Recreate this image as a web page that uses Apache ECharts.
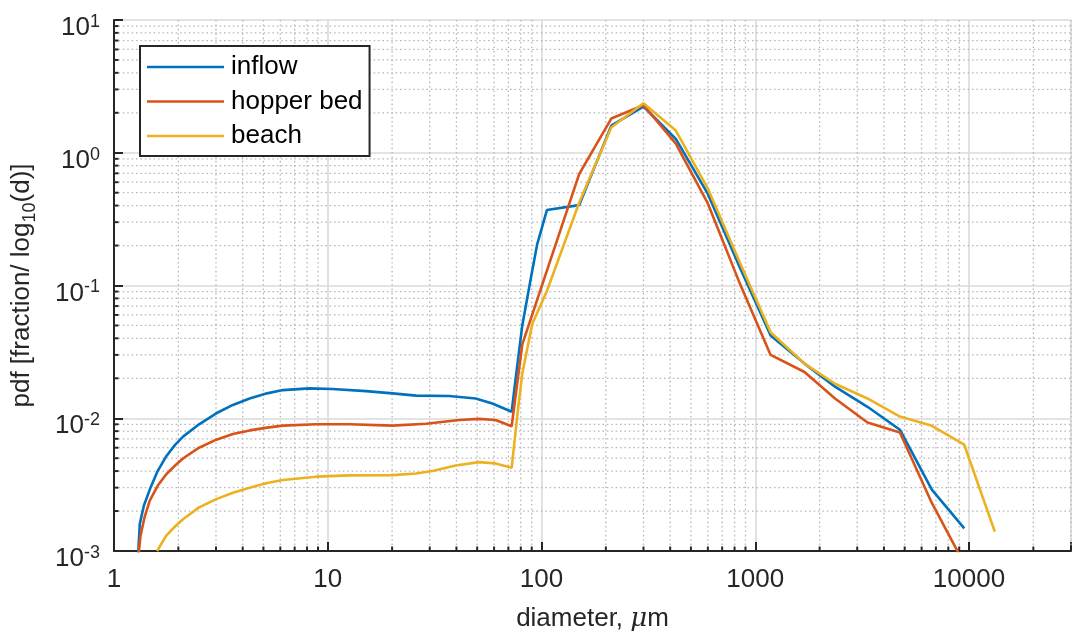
<!DOCTYPE html>
<html><head><meta charset="utf-8">
<script src="https://cdn.jsdelivr.net/npm/echarts@6/dist/echarts.min.js"></script>
<style>html,body{margin:0;padding:0;background:#fff}#c{width:1074px;height:637px}</style>
</head><body><div id="c"></div>
<script>
// ---- data ----
const seriesNames = ['inflow', 'hopper bed', 'beach'];

const inflowX = [1.295, 1.32, 1.38, 1.47, 1.6, 1.76, 1.93, 2.11, 2.5, 3.01, 3.6, 4.31, 5.2, 6.17, 8.2, 10.5, 15.1, 20.1, 25.9, 37, 49.2, 58.9, 72.5, 75.7, 81.3, 89, 95.5, 106, 150, 212, 300, 425, 600, 850, 1180, 1700, 2360, 3350, 4750, 6700, 9500];
const inflowY = [0.0009, 0.0016, 0.0022, 0.0029, 0.0040, 0.0052, 0.0063, 0.0073, 0.0090, 0.0109, 0.0126, 0.0141, 0.0154, 0.0163, 0.0168, 0.0166, 0.0160, 0.0154, 0.0148, 0.0147, 0.0141, 0.0129, 0.0112, 0.0200, 0.0500, 0.112, 0.205, 0.37, 0.403, 1.60, 2.23, 1.27, 0.49, 0.135, 0.042, 0.0258, 0.0173, 0.0122, 0.0082, 0.0029, 0.00148];

const hopperX = [1.30, 1.33, 1.39, 1.47, 1.6, 1.76, 1.93, 2.11, 2.5, 3.01, 3.6, 4.31, 5.2, 6.17, 8.83, 12.6, 20.1, 28.8, 41.2, 51, 61, 72.5, 81.3, 150, 212, 300, 425, 600, 850, 1180, 1700, 2360, 3350, 4750, 6700, 9500];
const hopperY = [0.0009, 0.0013, 0.0018, 0.0024, 0.0031, 0.0038, 0.0044, 0.0050, 0.0060, 0.0069, 0.0076, 0.0081, 0.0085, 0.0088, 0.0090, 0.0090, 0.0088, 0.0091, 0.0097, 0.0099, 0.0097, 0.0087, 0.036, 0.69, 1.81, 2.28, 1.17, 0.415, 0.102, 0.030, 0.0223, 0.0141, 0.0093, 0.0078, 0.0023, 0.0008];

const beachX = [1.59, 1.76, 1.93, 2.11, 2.5, 3.01, 3.6, 4.31, 5.2, 6.17, 8.83, 12.6, 20.1, 25.9, 30.9, 39.7, 51, 61, 72.5, 77.6, 81.3, 90.5, 106, 150, 212, 300, 425, 600, 850, 1180, 1700, 2360, 3350, 4750, 6700, 9500, 13200];
const beachY = [0.001, 0.00131, 0.00153, 0.00174, 0.00213, 0.00246, 0.00275, 0.0030, 0.00325, 0.00343, 0.00363, 0.00371, 0.00373, 0.00384, 0.0040, 0.0044, 0.00467, 0.00457, 0.00423, 0.0116, 0.0217, 0.0513, 0.091, 0.42, 1.55, 2.36, 1.47, 0.537, 0.147, 0.0445, 0.0258, 0.0182, 0.0141, 0.0103, 0.00877, 0.00632, 0.0014];

// axis ranges and tick labels
const xMin = 1, xMax = 30000;
const yMin = 0.001, yMax = 10;
const xMajorLabels = ['1', '10', '100', '1000', '10000'];
const minorMult = [2, 3, 4, 5, 6, 7, 8, 9];
const xDecades = [1, 10, 100, 1000, 10000];
const yDecades = [0.001, 0.01, 0.1, 1];

// ---- build ----
const xMinor = [];
xDecades.forEach(d => minorMult.forEach(m => { const v = +(d * m).toPrecision(6); if (v <= xMax) xMinor.push(v); }));
const yMinor = [];
yDecades.forEach(d => minorMult.forEach(m => { const v = +(d * m).toPrecision(6); if (v <= yMax) yMinor.push(v); }));

const zip = (xs, ys) => xs.map((x, i) => [x, ys[i]]);
const colors = ['#0072BD', '#D95319', '#EDB120'];
const FONT = '"Liberation Sans", Arial, Helvetica, sans-serif';
const AX = '#262626';

const chart = echarts.init(document.getElementById('c'), null, {renderer: 'canvas'});

function renderMinorX(params, api) {
  const v = api.value(0);
  const cs = params.coordSys;
  const x = api.coord([v, yMin])[0];
  const yb = cs.y + cs.height;
  return {type: 'group', children: [
    {type: 'line', shape: {x1: x, y1: cs.y, x2: x, y2: yb}, style: {stroke: '#b8b8b8', lineWidth: 1.3, lineDash: [1.6, 2.8]}},
    {type: 'line', shape: {x1: x, y1: yb, x2: x, y2: yb - 4.5}, style: {stroke: AX, lineWidth: 2}}
  ]};
}
function renderMinorY(params, api) {
  const v = api.value(1);
  const cs = params.coordSys;
  const y = api.coord([xMin, v])[1];
  return {type: 'group', children: [
    {type: 'line', shape: {x1: cs.x, y1: y, x2: cs.x + cs.width, y2: y}, style: {stroke: '#b8b8b8', lineWidth: 1.3, lineDash: [1.6, 2.8]}},
    {type: 'line', shape: {x1: cs.x, y1: y, x2: cs.x + 4.5, y2: y}, style: {stroke: AX, lineWidth: 2}}
  ]};
}

const lineSeries = [[inflowX, inflowY], [hopperX, hopperY], [beachX, beachY]].map((p, i) => ({
  name: seriesNames[i],
  type: 'line',
  data: zip(p[0], p[1]),
  symbol: 'none',
  showSymbol: false,
  smooth: false,
  z: 5,
  lineStyle: {color: colors[i], width: 2.6},
  itemStyle: {color: colors[i]}
}));

const option = {
  animation: false,
  backgroundColor: '#ffffff',
  grid: {left: 114, right: 0, top: 20, bottom: 81, containLabel: false},
  legend: {
    data: seriesNames.map((n, i) => ({name: n, icon: 'rect', itemStyle: {color: colors[i]}})),
    orient: 'vertical',
    left: 140, top: 46,
    padding: [8, 7, 7, 7],
    itemGap: 8.5,
    itemWidth: 77,
    itemHeight: 2.6,
    backgroundColor: '#ffffff',
    borderColor: AX,
    borderWidth: 2,
    borderRadius: 0,
    textStyle: {fontSize: 26, lineHeight: 26, color: '#000', fontFamily: FONT, padding: [0, 0, 0, 2]},
    z: 10
  },
  xAxis: {
    type: 'log', logBase: 10, min: xMin, max: xMax,
    name: '{a|diameter, }{mu|\u03bc}{a|m}',
    nameLocation: 'middle', nameGap: 55,
    nameTextStyle: {
      color: AX,
      rich: {
        a: {fontSize: 26, fontFamily: FONT, color: AX},
        mu: {fontSize: 26, fontFamily: '"DejaVu Serif", serif', fontStyle: 'italic', color: AX}
      }
    },
    axisLine: {show: true, onZero: false, lineStyle: {color: AX, width: 2}},
    axisTick: {show: true, inside: true, length: 9, lineStyle: {color: AX, width: 2}},
    axisLabel: {
      fontSize: 26, color: AX, fontFamily: FONT, margin: 16,
      showMinLabel: true, showMaxLabel: true,
      formatter: function (v) {
        const e = Math.round(Math.log10(v));
        if (Math.abs(Math.log10(v) - e) > 1e-6) return '';
        return xMajorLabels[e] !== undefined ? xMajorLabels[e] : '';
      }
    },
    splitLine: {show: true, lineStyle: {color: '#dadada', width: 1.6}},
    minorTick: {show: false}, minorSplitLine: {show: false}
  },
  yAxis: {
    type: 'log', logBase: 10, min: yMin, max: yMax,
    name: '{a|pdf [fraction/ log}{s|10}{a|(d)]}',
    nameLocation: 'middle', nameGap: 79, nameRotate: 90,
    nameTextStyle: {
      color: AX,
      rich: {
        a: {fontSize: 26, lineHeight: 26, fontFamily: FONT, color: AX, verticalAlign: 'top'},
        s: {fontSize: 18, lineHeight: 18, fontFamily: FONT, color: AX, verticalAlign: 'top', padding: [12, 0, 0, 0]}
      }
    },
    axisLine: {show: true, onZero: false, lineStyle: {color: AX, width: 2}},
    axisTick: {show: true, inside: true, length: 9, lineStyle: {color: AX, width: 2}},
    axisLabel: {
      color: AX, margin: 14,
      showMinLabel: true, showMaxLabel: true,
      formatter: function (v) {
        const e = Math.round(Math.log10(v));
        return '{b|10}{p|' + e + '}';
      },
      rich: {
        b: {fontSize: 26, lineHeight: 26, fontFamily: FONT, color: AX, verticalAlign: 'top', padding: [8, 0, 0, 0]},
        p: {fontSize: 18, lineHeight: 18, fontFamily: FONT, color: AX, verticalAlign: 'top', padding: [6, 0, 0, 0]}
      }
    },
    splitLine: {show: true, lineStyle: {color: '#dadada', width: 1.6}},
    minorTick: {show: false}, minorSplitLine: {show: false}
  },
  series: [
    {type: 'custom', name: 'xminor', silent: true, z: 1, renderItem: renderMinorX, data: xMinor.map(v => [v, yMin]), clip: false},
    {type: 'custom', name: 'yminor', silent: true, z: 1, renderItem: renderMinorY, data: yMinor.map(v => [xMin, v]), clip: false}
  ].concat(lineSeries)
};
chart.setOption(option);
</script>
</body></html>
